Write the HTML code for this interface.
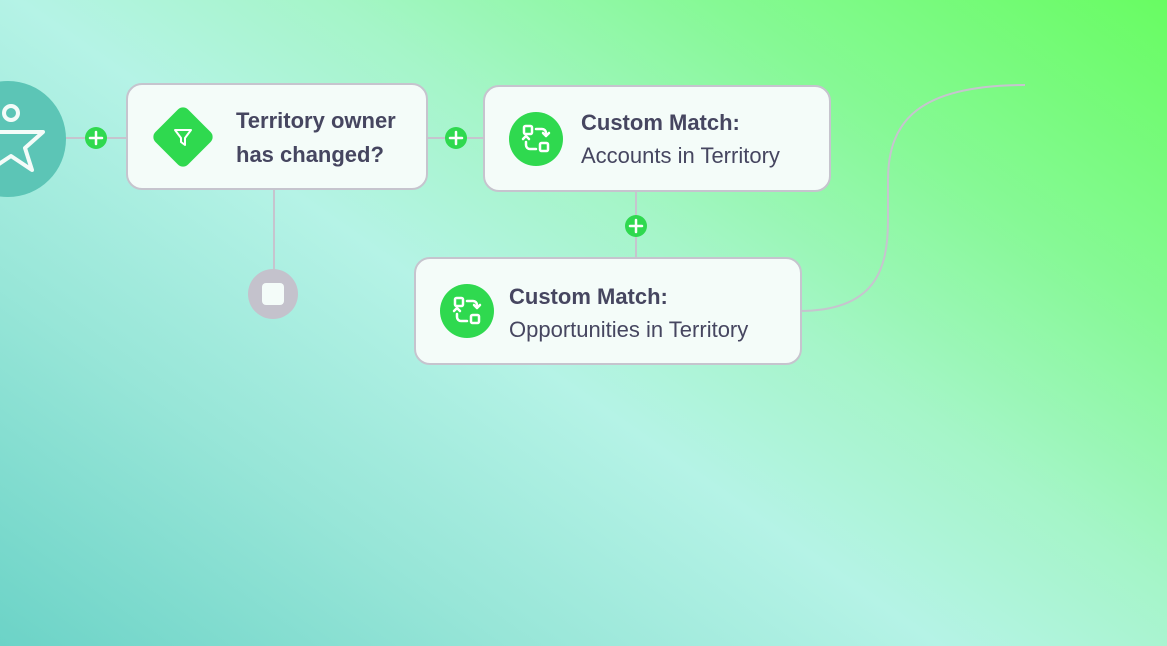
<!DOCTYPE html>
<html><head><meta charset="utf-8"><style>
html,body{margin:0;padding:0}
body{width:1167px;height:646px;overflow:hidden;position:relative;font-family:"Liberation Sans",sans-serif;
background:linear-gradient(35deg,#6cd3c7 0%,#98e6d8 25%,#b5f3e6 45%,#a5f5c8 60%,#86f995 78%,#68fc62 100%);}
.node{position:absolute;background:#f4fcf9;border:2px solid #c6c4ce;border-radius:16px;box-sizing:border-box}
.t{position:absolute;color:#464660;font-size:22px;white-space:nowrap}
.b{font-weight:bold}
</style></head><body>
<svg width="1167" height="646" style="position:absolute;left:0;top:0">
<g stroke="#c6c4ce" stroke-width="2" fill="none">
<line x1="60" y1="138" x2="128" y2="138"/>
<line x1="426" y1="138" x2="486" y2="138"/>
<line x1="274" y1="188" x2="274" y2="272"/>
<line x1="636" y1="190" x2="636" y2="260"/>
<path d="M799,311 C875,311 888,270 888,220 L888,180 C888,120 920,85 1025,85"/>
</g>
<circle cx="8" cy="139" r="58" fill="#5cc5b6"/>
<g stroke="#f4fcf9" stroke-width="4" fill="none" stroke-linecap="round" stroke-linejoin="round">
<circle cx="11" cy="113" r="7"/>
<path d="M-10,132 L43,132 L25,148 L32,170 L11,156 L-10,170"/>
</g>
<circle cx="273" cy="294" r="25" fill="#c4c2cc"/>
<rect x="262" y="283" width="22" height="22" rx="4" fill="#f4fcf9"/>
</svg>
<div class="node" style="left:126px;top:83px;width:302px;height:107px"></div>
<div class="node" style="left:483px;top:85px;width:348px;height:107px"></div>
<div class="node" style="left:414px;top:257px;width:388px;height:108px"></div>
<svg width="1167" height="646" style="position:absolute;left:0;top:0">
<g fill="#2fd94f">
<circle cx="96" cy="138" r="11"/><circle cx="456" cy="138" r="11"/><circle cx="636" cy="226" r="11"/>
<rect x="160" y="114" width="46" height="46" rx="7" transform="rotate(45 183 137)"/>
<circle cx="536" cy="139" r="27"/><circle cx="467" cy="311" r="27"/>
</g>
<g stroke="#fff" stroke-width="2.5" stroke-linecap="round">
<path d="M90,138h12M96,132v12M450,138h12M456,132v12M630,226h12M636,220v12"/>
</g>
<path d="M175,130 L191,130 L185,138 L185,145 L181,142 L181,138 Z" fill="none" stroke="#fff" stroke-width="2" stroke-linejoin="round"/>
<g fill="none" stroke="#fff" stroke-width="2.5" stroke-linecap="round" stroke-linejoin="round">
<g transform="translate(536,139)"><rect x="-12" y="-13" width="8" height="8" rx="1.5"/><rect x="4" y="4" width="8" height="8" rx="1.5"/><path d="M0,-10 h6 a4,4 0 0 1 4,4 v3 M7,-6 l3,3 3,-3 M0,10 h-6 a4,4 0 0 1 -4,-4 v-3 M-13,0 l3,-3 3,3"/></g>
<g transform="translate(467,311)"><rect x="-12" y="-13" width="8" height="8" rx="1.5"/><rect x="4" y="4" width="8" height="8" rx="1.5"/><path d="M0,-10 h6 a4,4 0 0 1 4,4 v3 M7,-6 l3,3 3,-3 M0,10 h-6 a4,4 0 0 1 -4,-4 v-3 M-13,0 l3,-3 3,3"/></g>
</g>
</svg>
<div class="t b" style="left:236px;top:108px">Territory owner</div>
<div class="t b" style="left:236px;top:142px">has changed?</div>
<div class="t b" style="left:581px;top:110px">Custom Match:</div>
<div class="t" style="left:581px;top:143px">Accounts in Territory</div>
<div class="t b" style="left:509px;top:284px">Custom Match:</div>
<div class="t" style="left:509px;top:317px">Opportunities in Territory</div>
</body></html>
